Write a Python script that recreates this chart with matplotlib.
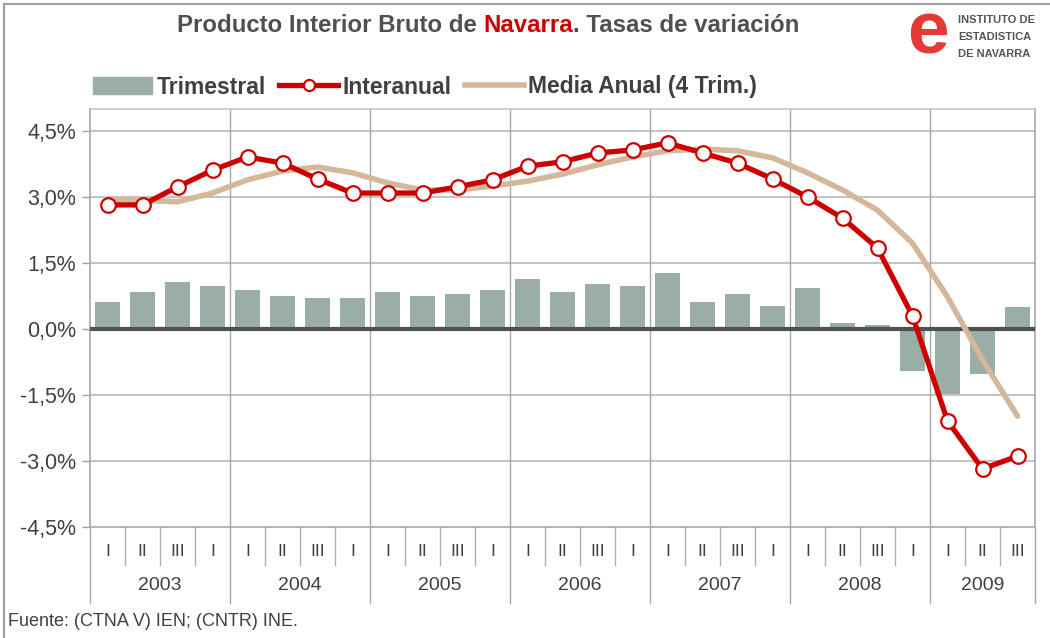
import matplotlib.pyplot as plt
from matplotlib.lines import Line2D
from matplotlib.patches import Patch
from matplotlib.ticker import FuncFormatter
import matplotlib.transforms as mtransforms

plt.rcParams["font.family"] = ["Liberation Sans", "DejaVu Sans"]

years = ["2003", "2004", "2005", "2006", "2007", "2008", "2009"]
quarter_labels = ["I", "II", "III", "I"] * 6 + ["I", "II", "III"]

trimestral = [0.61, 0.84, 1.07, 0.98,
              0.89, 0.75, 0.70, 0.70,
              0.84, 0.75, 0.80, 0.89,
              1.14, 0.84, 1.02, 0.98,
              1.27, 0.61, 0.80, 0.52,
              0.93, 0.14, 0.09, -0.95,
              -1.48, -1.02, 0.50]
interanual = [2.82, 2.82, 3.23, 3.61,
              3.91, 3.77, 3.41, 3.09,
              3.09, 3.09, 3.23, 3.39,
              3.70, 3.80, 4.00, 4.07,
              4.23, 4.00, 3.77, 3.41,
              3.00, 2.52, 1.84, 0.30,
              -2.09, -3.18, -2.89]
media_anual = [2.93, 2.93, 2.89, 3.09,
               3.39, 3.59, 3.68, 3.55,
               3.32, 3.16, 3.16, 3.25,
               3.36, 3.52, 3.73, 3.91,
               4.05, 4.09, 4.05, 3.89,
               3.55, 3.16, 2.70, 1.95,
               0.73, -0.70, -1.98]

BAR = "#9aaea7"
RED = "#cc0000"
TAN = "#d5b79b"
TXT = "#404040"
GRID = "#c4c4c4"

W, H = 1050, 638
fig = plt.figure(figsize=(W / 100, H / 100), dpi=100)
ax = fig.add_axes([90 / W, 1 - 527 / H, 945 / W, 418 / H])

x = list(range(len(trimestral)))
ax.bar(x, trimestral, width=0.72, color=BAR, zorder=2)
ax.axhline(0, color="#505050", lw=3, zorder=3)
ax.plot(x, media_anual, color=TAN, lw=4, solid_capstyle="round", zorder=4)
ax.plot(x, interanual, color=RED, lw=3.8, marker="o", ms=10.5, mfc="white",
        mec=RED, mew=1.6, zorder=5)

ax.set_xlim(-0.5, len(x) - 0.5)
ax.set_ylim(-4.5, 5.0)
yt = [-4.5, -3.0, -1.5, 0.0, 1.5, 3.0, 4.5]
ax.set_yticks(yt)
ax.yaxis.set_major_formatter(FuncFormatter(lambda v, p: f"{v:.1f}%".replace(".", ",")))
ax.tick_params(axis="y", labelsize=15.5, labelcolor=TXT, color="#a0a0a0",
               length=6, width=1, pad=4)
ax.set_xticks([])
for v in [-3.0, -1.5, 1.5, 3.0, 4.5]:
    ax.axhline(v, color=GRID, lw=1.5, zorder=1)

for s in ["left", "right", "top", "bottom"]:
    ax.spines[s].set_color("#a8a8a8")
    ax.spines[s].set_linewidth(1.2)
ax.spines["top"].set_color(GRID)

# year separators through the plot
for i in range(4, len(x), 4):
    ax.axvline(i - 0.5, color="#a8a8a8", lw=1, zorder=1)

# category axis below the plot
trans = mtransforms.blended_transform_factory(ax.transData, fig.transFigure)
y_bot = 1 - 527 / H
y_q = 1 - 565 / H
y_y = 1 - 603 / H
for i, q in enumerate(quarter_labels):
    ax.text(i, 1 - 552 / H, q, transform=trans, ha="center", va="center",
            fontsize=12.5, color=TXT)
    if i > 0 and i % 4 != 0:
        ax.add_line(Line2D([i - 0.5, i - 0.5], [y_bot, y_q], transform=trans,
                           color="#b0b0b0", lw=1, clip_on=False))
for k in range(len(years) + 1):
    xb = min(4 * k, len(x)) - 0.5
    ax.add_line(Line2D([xb, xb], [y_bot, y_y], transform=trans,
                       color="#a8a8a8", lw=1, clip_on=False))
for k, yr in enumerate(years):
    start = 4 * k - 0.5
    end = min(4 * k + 4, len(x)) - 0.5
    ax.text((start + end) / 2, 1 - 585 / H, yr, transform=trans, ha="center",
            va="center", fontsize=14, color=TXT)

# title
TS = 17.3
t1 = fig.text(177 / W, 1 - 26 / H, "Producto Interior Bruto de ", fontsize=TS,
              fontweight="bold", color="#505050", va="center")
fig.canvas.draw()
r = fig.canvas.get_renderer()
bb = t1.get_window_extent(r)
t2 = fig.text(bb.x1 / W, 1 - 26 / H, "Navarra", fontsize=TS, fontweight="bold",
              color=RED, va="center")
bb2 = t2.get_window_extent(r)
fig.text(bb2.x1 / W, 1 - 26 / H, ". Tasas de variación", fontsize=TS,
         fontweight="bold", color="#505050", va="center")

# legend
handles = [
    Patch(color=BAR),
    Line2D([], [], color=RED, lw=3.8, marker="o", ms=8, mfc="white", mec=RED, mew=1.6),
    Line2D([], [], color=TAN, lw=4),
]
fig.legend(handles, ["Trimestral", "Interanual", "Media Anual (4 Trim.)"],
           loc="center left", bbox_to_anchor=(82 / W, 1 - 87 / H), ncol=3,
           frameon=False, handlelength=2.55, handletextpad=0.2, columnspacing=0.6,
           prop={"size": 16.5, "weight": "bold"}, labelcolor=TXT, borderpad=0)

# logo
fig.text(928 / W, 1 - 34 / H, "e", fontsize=54, fontweight="bold", color="#e53935",
         ha="center", va="center")
for j, s in enumerate(["INSTITUTO DE", "ESTADISTICA", "DE NAVARRA"]):
    fig.text(958 / W, 1 - (20 + 17 * j) / H, s, fontsize=8, fontweight="bold",
             color="#555555", va="center")

# source
fig.text(8 / W, 1 - 622 / H, "Fuente: (CTNA V) IEN; (CNTR) INE.", fontsize=13,
         color=TXT, va="center")

# outer border (left and top)
fig.add_artist(Line2D([4 / W, 4 / W], [0, 1 - 4 / H], color="#a0a0a0", lw=1.5))
fig.add_artist(Line2D([4 / W, 1], [1 - 4 / H, 1 - 4 / H], color="#a0a0a0", lw=1.5))

fig.savefig("out.png", dpi=100)
